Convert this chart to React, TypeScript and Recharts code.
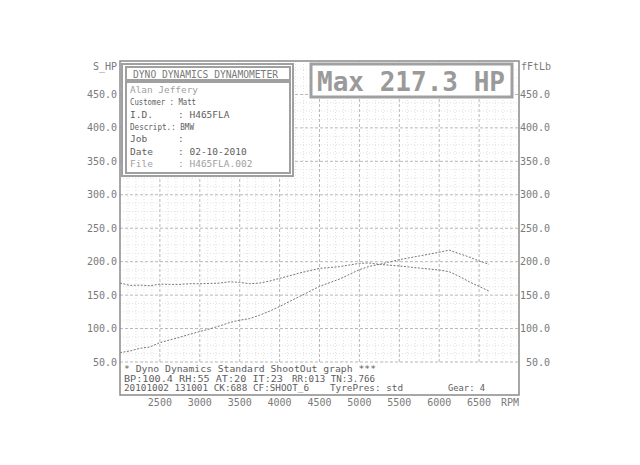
import { LineChart, Line, XAxis, YAxis, ReferenceLine } from 'recharts'

// engine speed samples (RPM)
const rpm = [
  2000, 2125, 2250, 2375, 2500, 2625, 2750, 2875, 3000, 3125, 3250, 3375, 3500, 3625, 3750, 3875,
  4000, 4250, 4500, 4750, 5000, 5125, 5250, 5500, 5750, 6000, 6125, 6250, 6375, 6500, 6625,
]
// torque, ft-lb (right scale)
const torqueFtLb = [
  168, 164.5, 165, 164, 166.5, 166, 166, 167, 167, 167.5, 168, 170, 169, 167, 168, 171,
  175, 183, 190, 192.5, 197.5, 198, 196, 193.5, 190.5, 187.5, 185, 178, 170, 163, 156,
]
// power, HP (left scale)
const powerHp = [
  64, 66.5, 70.5, 72.5, 79, 83, 87, 91.5, 95.5, 99.5, 104, 109, 112.5, 115, 120, 126,
  133, 148, 163, 174, 188, 193, 196, 203, 208.5, 214, 217.3, 212, 207, 201, 196,
]

const rpmTicks = [2500, 3000, 3500, 4000, 4500, 5000, 5500, 6000, 6500]
const valueTicks = [50, 100, 150, 200, 250, 300, 350, 400, 450]

// info box rows: label text, value text, label squeeze
const infoRows = [
  { label: 'Customer : Matt', value: '', len: 66 },
  { label: 'I.D.', value: ': H465FLA', len: 0 },
  { label: 'Descript.: BMW', value: '', len: 64 },
  { label: 'Job', value: ':', len: 0 },
  { label: 'Date', value: ': 02-10-2010', len: 0 },
]

const rows = rpm.map((r, i) => ({ rpm: r, torque: torqueFtLb[i], power: powerHp[i] }))

const minorRpm: number[] = []
for (let r = 2100; r < 7000; r += 100) if (r % 500 !== 0) minorRpm.push(r)
const minorVal: number[] = []
for (let v = 62.5; v < 500; v += 12.5) if (v % 50 !== 0) minorVal.push(v)

const MONO = '"DejaVu Sans Mono", "Liberation Mono", monospace'
const TXT = '#7a7a7a'

const LeftTick = (p: any) => (
  <text x={p.x - 3} y={p.y} dy={3.5} textAnchor="end" fontFamily={MONO} fontSize={10} fill={TXT}>
    {p.payload.value.toFixed(1)}
  </text>
)
const RightTick = (p: any) => (
  <text x={p.x + 31} y={p.y} dy={3.5} textAnchor="end" fontFamily={MONO} fontSize={10} fill={TXT}>
    {p.payload.value.toFixed(1)}
  </text>
)
const RpmTick = (p: any) => (
  <text x={p.x} y={p.y + 44} textAnchor="middle" fontFamily={MONO} fontSize={10} fill={TXT}>
    {p.payload.value}
  </text>
)

function Overlay() {
  const ink = '#5e5e5e'
  return (
    <svg width={640} height={465} style={{ position: 'absolute', left: 0, top: 0, pointerEvents: 'none' }}>
      {/* plot frame */}
      <rect x={120} y={61} width={399} height={334} fill="none" stroke="#8a8a8a" strokeWidth={1.5} />
      <text x={93} y={70} fontFamily={MONO} fontSize={10} fill={TXT}>S_HP</text>
      <text x={521} y={70} fontFamily={MONO} fontSize={10} fill={TXT}>fFtLb</text>
      <text x={510} y={406} textAnchor="middle" fontFamily={MONO} fontSize={10} fill={TXT}>RPM</text>

      {/* info box */}
      <rect x={122} y={64} width={171} height={112} fill="#fff" stroke="#a0a0a0" strokeWidth={2} />
      <rect x={126} y={67} width={164} height={13} fill="#fff" stroke="#a0a0a0" strokeWidth={2} />
      <rect x={126} y={82} width={164} height={91} fill="#fff" stroke="#a0a0a0" strokeWidth={2} />
      <text x={133} y={77.5} fontFamily={MONO} fontSize={10} fill={TXT} textLength={145} lengthAdjust="spacingAndGlyphs">
        DYNO DYNAMICS DYNAMOMETER
      </text>
      <text x={130} y={93} fontFamily={MONO} fontSize={9.5} fill="#a0a0a0" textLength={68} lengthAdjust="spacingAndGlyphs">
        Alan Jeffery
      </text>
      {infoRows.map((r, i) => (
        <g key={r.label}>
          <text
            x={130}
            y={105.3 + i * 12.3}
            fontFamily={MONO}
            fontSize={9.5}
            fill={ink}
            textLength={r.len || undefined}
            lengthAdjust={r.len ? 'spacingAndGlyphs' : undefined}
          >
            {r.label}
          </text>
          {r.value && (
            <text x={178} y={105.3 + i * 12.3} fontFamily={MONO} fontSize={9.5} fill={ink}>
              {r.value}
            </text>
          )}
        </g>
      ))}
      <text x={130} y={166.8} fontFamily={MONO} fontSize={9.5} fill="#a0a0a0">File</text>
      <text x={178} y={166.8} fontFamily={MONO} fontSize={9.5} fill="#a0a0a0">: H465FLA.002</text>

      {/* max box */}
      <rect x={311} y={64} width={201} height={33} fill="#fff" stroke="#a0a0a0" strokeWidth={3} />
      <text x={317} y={91} fontFamily={MONO} fontSize={27} fontWeight="bold" fill="#9a9a9a" textLength={188} lengthAdjust="spacingAndGlyphs">
        Max 217.3 HP
      </text>

      {/* run details */}
      <text x={124} y={372} fontFamily={MONO} fontSize={8.5} fill={ink} textLength={252} lengthAdjust="spacingAndGlyphs">
        * Dyno Dynamics Standard ShootOut graph ***
      </text>
      <text x={124} y={381.5} fontFamily={MONO} fontSize={8.5} fill={ink} textLength={159} lengthAdjust="spacingAndGlyphs">
        BP:100.4 RH:55 AT:20 IT:23
      </text>
      <text x={292} y={381.5} fontFamily={MONO} fontSize={8.5} fill={ink} textLength={83} lengthAdjust="spacingAndGlyphs">
        RR:013 TN:3.766
      </text>
      <text x={124} y={391} fontFamily={MONO} fontSize={8.5} fill={ink} textLength={185} lengthAdjust="spacingAndGlyphs">
        20101002 131001 CK:688 CF:SHOOT_6
      </text>
      <text x={330} y={391} fontFamily={MONO} fontSize={8.5} fill={ink} textLength={73} lengthAdjust="spacingAndGlyphs">
        TyrePres: std
      </text>
      <text x={448} y={391} fontFamily={MONO} fontSize={8.5} fill={ink} textLength={37} lengthAdjust="spacingAndGlyphs">
        Gear: 4
      </text>
    </svg>
  )
}

export default function App() {
  return (
    <div style={{ position: 'absolute', left: 0, top: 0, width: 640, height: 465, background: '#fff' }}>
      <LineChart width={640} height={465} data={rows} margin={{ top: 61, right: 0, bottom: 0, left: 0 }}>
        <XAxis
          xAxisId="rpm"
          dataKey="rpm"
          type="number"
          domain={[2000, 7000]}
          allowDataOverflow
          ticks={rpmTicks}
          interval={0}
          height={103}
          tickSize={0}
          tickMargin={0}
          axisLine={false}
          tick={(p: any) => <RpmTick {...p} />}
        />
        <YAxis
          yAxisId="hp"
          domain={[50, 500]}
          allowDataOverflow
          ticks={valueTicks}
          interval={0}
          width={120}
          tickSize={0}
          tickMargin={0}
          axisLine={false}
          tick={(p: any) => <LeftTick {...p} />}
        />
        <YAxis
          yAxisId="tq"
          orientation="right"
          domain={[50, 500]}
          allowDataOverflow
          ticks={valueTicks}
          interval={0}
          width={121}
          tickSize={0}
          tickMargin={0}
          axisLine={false}
          tick={(p: any) => <RightTick {...p} />}
        />
        {minorRpm.map((r) => (
          <ReferenceLine key={'mx' + r} x={r} xAxisId="rpm" yAxisId="hp" stroke="#e2e2e2" strokeDasharray="1 2" />
        ))}
        {minorVal.map((v) => (
          <ReferenceLine key={'my' + v} y={v} xAxisId="rpm" yAxisId="hp" stroke="#e2e2e2" strokeDasharray="1 2" />
        ))}
        {rpmTicks.map((r) => (
          <ReferenceLine key={'Mx' + r} x={r} xAxisId="rpm" yAxisId="hp" stroke="#b8b8b8" strokeDasharray="3 2" />
        ))}
        {valueTicks.map((v) => (
          <ReferenceLine key={'My' + v} y={v} xAxisId="rpm" yAxisId="hp" stroke="#b8b8b8" strokeDasharray="3 2" />
        ))}
        <Line
          xAxisId="rpm"
          yAxisId="tq"
          dataKey="torque"
          type="linear"
          stroke="#777"
          strokeWidth={1}
          strokeDasharray="2 1.5"
          dot={false}
          isAnimationActive={false}
        />
        <Line
          xAxisId="rpm"
          yAxisId="hp"
          dataKey="power"
          type="linear"
          stroke="#777"
          strokeWidth={1}
          strokeDasharray="2 1.5"
          dot={false}
          isAnimationActive={false}
        />
      </LineChart>
      <Overlay />
    </div>
  )
}
